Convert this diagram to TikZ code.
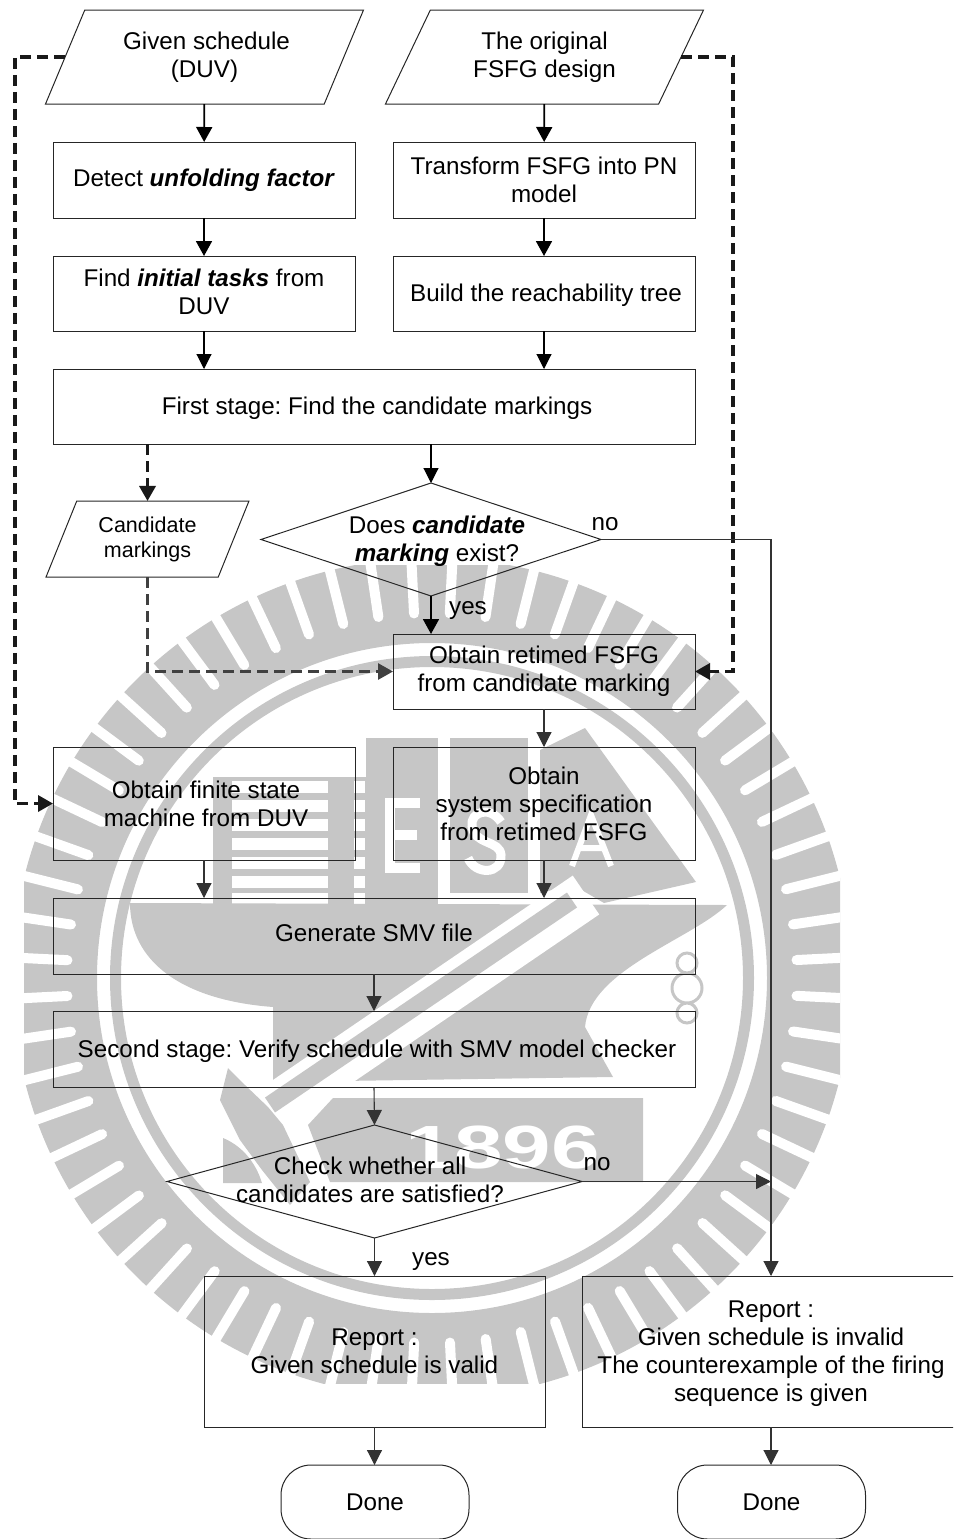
\documentclass[tikz,border=0pt]{standalone}
\usepackage{fontspec}
\usepackage{graphicx}
\setmainfont{Liberation Sans}
\frenchspacing
\usetikzlibrary{arrows.meta,shapes.geometric}
\definecolor{wmgray}{HTML}{C6C6C6}
\tikzset{
  txt/.style={font=\fontsize{24.2}{28}\selectfont, align=center, inner sep=0pt},
  box/.style={txt, draw=black!85, line width=1pt, outer sep=0pt, minimum width=#1},
  box/.default=302pt,
  inbox/.style={trapezium, txt, draw=black!85, line width=1pt, outer sep=0pt, trapezium stretches=true,
    trapezium left angle=61, trapezium right angle=119, minimum width=319pt, minimum height=94pt},
  decision/.style={diamond, draw=black!85, line width=1pt, inner sep=0pt, outer sep=0pt, aspect=3},
  arrow/.style={line width=1.8pt, -{Triangle[length=15pt,width=16pt]}},
  thinarrow/.style={line width=1.1pt, black!80, -{Triangle[length=15pt,width=15pt]}},
  dashline/.style={line width=3.4pt, black!90, dash pattern=on 11pt off 6pt, -{Triangle[length=15pt,width=16pt]}},
  wmline/.style={white, line width=#1},
}
\begin{document}
\begin{tikzpicture}[x=1pt,y=-1pt]
  \useasboundingbox (0,0) rectangle (953,1539);
  \clip (0,0) rectangle (953,1539);
  % watermark
  \begin{scope}
    \clip (24,565) rectangle (840,1383);
    \coordinate (wm) at (432,978);
    \fill[wmgray, even odd rule] (wm) circle (420) (wm) circle (335);
    \fill[wmgray, even odd rule] (wm) circle (322) (wm) circle (311);
    \foreach \n in {0,...,63}
      \draw[white, line width=10pt, line cap=round, shift={(wm)}]
        (\n*5.625+2.8:365) -- (\n*5.625+2.8:430);
    % building
    \fill[wmgray] (213,777) rectangle (366,910);
    \fill[wmgray] (366,738) rectangle (438,910);
    \fill[wmgray] (450,738) rectangle (528,893);
    \foreach \y in {787,806,825,844,863,882,899} {
      \fill[white] (232,\y-6) rectangle (328,\y+6);
      \fill[white] (354,\y-6) rectangle (365,\y+6);
    }
    \draw[wmline=10pt] (420,803) -- (390,803) -- (390,868) -- (420,868) (390,835) -- (417,835);
    \draw[wmline=9pt] (501,822) .. controls (490,805) and (470,812) .. (472,826)
      .. controls (474,845) and (500,840) .. (501,855) .. controls (502,875) and (475,875) .. (468,858);
    \fill[wmgray] (585,728) -- (696,882) -- (604,903) -- (573,885) -- (540,893) -- (540,750) -- cycle;
    \draw[wmline=6pt] (572,866) -- (591,815) -- (611,866) (579,848) -- (604,848);
    % anvil
    \fill[wmgray] (130,903) -- (727,905) .. controls (690,940) and (590,970) .. (585,1027)
      -- (613,1077) -- (273,1082) -- (273,1007) .. controls (180,1000) and (130,960) .. cycle;
    \draw[wmline=47pt] (586,895) -- (278,1105);
    \draw[wmgray, line width=18pt] (572,900) -- (270,1105);
    % hammer and plate
    \fill[wmgray] (228,1068) -- (220,1100) -- (240,1140) -- (262,1170) -- (290,1205) -- (310,1182)
      -- (283,1125) -- (268,1107) -- (245,1085) -- cycle;
    \fill[wmgray] (223,1138) -- (223,1183) -- (262,1183) .. controls (255,1160) and (240,1145) .. cycle;
    \fill[wmgray] (333,1098) -- (643,1098) -- (643,1182) -- (330,1182) -- (308,1125) -- cycle;
    \node[white, inner sep=0pt, font=\fontsize{61}{61}\selectfont\bfseries]
      (year) at (503,1147) {\scalebox{1.43}[1]{1896}};
    % chain
    \draw[wmgray, line width=3pt] (687,963) circle (10) (687,988) circle (15) (687,1013) circle (10);
  \end{scope}
  % rails of the long connectors
  \coordinate (leftrail) at (15,0);
  \coordinate (rightrail) at (733,0);
  \coordinate (norail) at (771,0);
  % inputs and steps
  \node[inbox] (given) at (204.5,57) {\hspace*{4pt}Given schedule\\(DUV)};
  \node[inbox] (fsfg) at (544.5,57) {The original\\FSFG design};
  \node[box, minimum height=76pt] (detect) at (204,180) {Detect \textbf{\textit{unfolding factor}}};
  \node[box, minimum height=76pt] (transform) at (544,180) {Transform FSFG into PN\\model};
  \node[box, minimum height=75pt, text depth=4pt] (find) at (204,293.5) {Find \textbf{\textit{initial tasks}} from\\DUV};
  \node[box, minimum height=75pt, text height=22pt] (build) at (544,293.5) {\hspace*{4pt}Build the reachability tree};
  \node[box=642pt, minimum height=75pt, text height=22pt] (first) at (374,406.5) {\hspace*{6pt}First stage: Find the candidate markings};
  \node[inbox, font=\fontsize{21.5}{25}\selectfont, trapezium left angle=64.7, trapezium right angle=115.3,
    minimum width=203pt, minimum height=76pt] (cand) at (147.5,539) {Candidate\\markings};
  \node[decision, minimum width=340pt, minimum height=113pt] (exist) at (431,539.5) {};
  \node[txt] (existtext) at (437,541) {Does \textbf{\textit{candidate}}\\\textbf{\textit{marking}} exist?};
  \node[box, minimum height=75pt] (retimed) at (544,671.5) {Obtain retimed FSFG\\from candidate marking};
  \node[box, minimum height=113pt] (fsm) at (204,803.5) {\hspace*{4pt}Obtain finite state\\\hspace*{4pt}machine from DUV};
  \node[box, minimum height=113pt] (spec) at (544,803.5) {Obtain\\system specification\\from retimed FSFG};
  \node[box=642pt, minimum height=76pt, text depth=6pt] (smv) at (374,936) {Generate SMV file};
  \node[box=642pt, minimum height=76pt, text height=22pt] (second) at (374,1049) {\hspace*{6pt}Second stage: Verify schedule with SMV model checker};
  \node[decision, minimum width=415pt, minimum height=113pt] (check) at (374.5,1181.5) {};
  \node[txt] (checktext) at (370,1180) {Check whether all\\candidates are satisfied?};
  \node[box=341pt, minimum height=151pt] (valid) at (374.5,1351.5) {Report :\\Given schedule is valid};
  \node[box=378pt, minimum height=151pt, text height=104pt] (invalid) at (771,1351.5) {Report :\\Given schedule is invalid\\The counterexample of the firing\\sequence is given};
  \node[box=188pt, minimum height=74pt, rounded corners=30pt] (done1) at (375,1502) {Done};
  \node[box=188pt, minimum height=74pt, rounded corners=30pt] (done2) at (771.5,1502) {Done};
  % labels
  \node[txt] (nofirst) at (605,524) {no};
  \node[txt] (yesfirst) at (468,610) {yes};
  \node[txt] (nosecond) at (597,1164) {no};
  \node[txt] (yessecond) at (431,1261) {yes};
  % connectors
  \draw[arrow] (given) -- (detect);
  \draw[arrow] (fsfg) -- (transform);
  \draw[arrow] (detect) -- (find);
  \draw[arrow] (transform) -- (build);
  \draw[thinarrow, black] (find) -- (find |- first.north);
  \draw[thinarrow, black] (build) -- (build |- first.north);
  \draw[thinarrow, black] (exist.north |- first.south) -- (exist.north);
  \draw[dashline] (cand.north |- first.south) -- (cand.north);
  \draw[dashline, line width=2.8pt, black!75] (cand.south) -- (cand.south |- retimed.west) -- (retimed.west);
  \draw[dashline] (given.west) -- (leftrail |- given.west) -- (leftrail |- fsm.west) -- (fsm.west);
  \draw[dashline] (fsfg.east) -- (rightrail |- fsfg.east) -- (rightrail |- retimed.east) -- (retimed.east);
  \draw[arrow] (exist.south) -- (exist.south |- retimed.north);
  \draw[thinarrow] (exist.east) -- (norail |- exist.east) -- (norail |- invalid.north);
  \draw[thinarrow] (retimed) -- (spec);
  \draw[thinarrow] (fsm) -- (fsm |- smv.north);
  \draw[thinarrow] (spec) -- (spec |- smv.north);
  \draw[thinarrow] (smv) -- (second);
  \draw[thinarrow] (second.south) -- (check.north);
  \draw[thinarrow] (check.east) -- (norail |- check.east);
  \draw[thinarrow] (check.south) -- (check.south |- valid.north);
  \draw[thinarrow] (valid.south) -- (valid.south |- done1.north);
  \draw[thinarrow] (invalid.south) -- (invalid.south |- done2.north);
\end{tikzpicture}
\end{document}
